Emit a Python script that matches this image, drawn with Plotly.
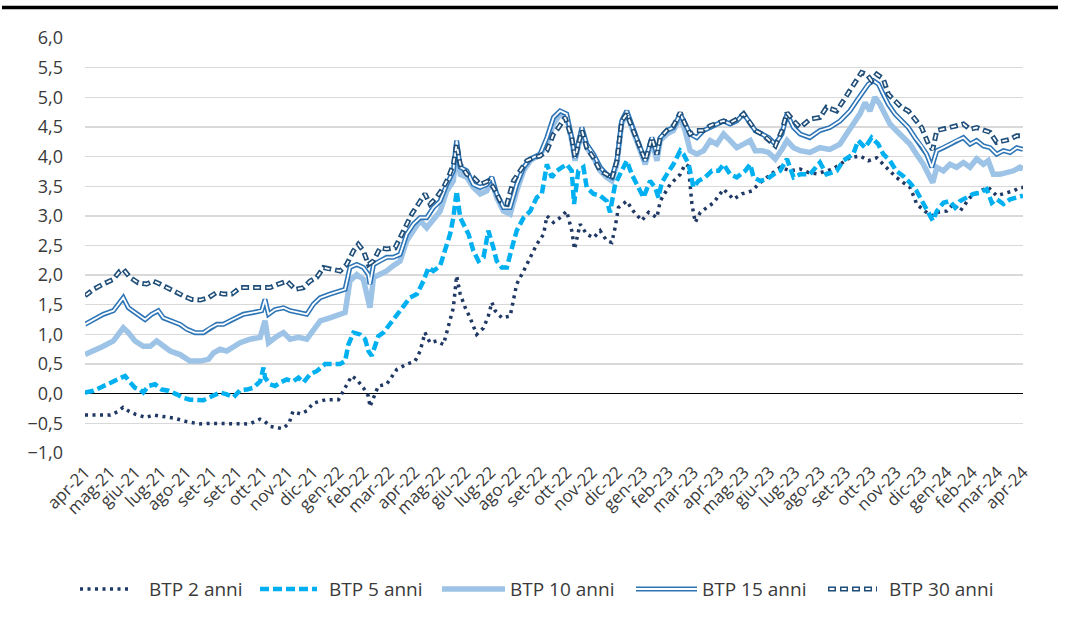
import plotly.graph_objects as go

# ---------------- data (x = position in month-label units, y = yield %) ----------------
month_labels = ["apr-21", "mag-21", "giu-21", "lug-21", "ago-21", "set-21", "set-21", "ott-21",
                "nov-21", "dic-21", "gen-22", "feb-22", "mar-22", "apr-22", "mag-22", "giu-22",
                "lug-22", "ago-22", "set-22", "ott-22", "nov-22", "dic-22", "gen-23", "feb-23",
                "mar-23", "apr-23", "mag-23", "giu-23", "lug-23", "ago-23", "set-23", "ott-23",
                "nov-23", "dic-23", "gen-24", "feb-24", "mar-24", "apr-24"]

series_names = ["BTP 2 anni", "BTP 5 anni", "BTP 10 anni", "BTP 15 anni", "BTP 30 anni"]

btp2 = [(0, -0.36), (0.5, -0.36), (1.0, -0.36), (1.3, -0.30), (1.5, -0.23), (1.75, -0.30), (2.0, -0.35),
        (2.4, -0.40), (2.7, -0.36), (3.0, -0.38), (3.5, -0.41), (4.0, -0.47), (4.5, -0.51), (5.0, -0.50),
        (5.5, -0.50), (6.0, -0.51), (6.5, -0.51), (6.9, -0.43), (7.1, -0.47), (7.3, -0.55), (7.6, -0.57),
        (7.8, -0.59), (8.05, -0.50), (8.2, -0.30), (8.5, -0.34), (8.75, -0.29), (9.0, -0.16), (9.5, -0.10),
        (10.0, -0.10), (10.32, 0.16), (10.52, 0.30), (10.72, 0.24), (10.98, 0.10), (11.18, -0.04),
        (11.24, -0.22), (11.38, -0.07), (11.57, 0.13), (11.9, 0.16), (12.3, 0.41), (12.69, 0.50),
        (13.02, 0.55), (13.22, 0.72), (13.41, 1.03), (13.61, 0.86), (13.87, 0.89), (14.14, 0.83),
        (14.34, 1.17), (14.53, 1.45), (14.66, 1.99), (14.8, 1.68), (15.0, 1.45), (15.19, 1.28),
        (15.45, 1.00), (15.72, 1.11), (15.91, 1.31), (16.05, 1.54), (16.18, 1.40), (16.44, 1.28),
        (16.77, 1.31), (17.03, 1.85), (17.3, 2.07), (17.56, 2.30), (17.82, 2.52), (18.09, 2.69),
        (18.22, 3.00), (18.48, 2.89), (18.74, 2.97), (19.0, 3.08), (19.2, 2.75), (19.31, 2.44),
        (19.53, 2.86), (19.79, 2.69), (20.06, 2.63), (20.32, 2.75), (20.58, 2.58), (20.78, 2.55),
        (20.91, 2.80), (21.04, 3.14), (21.37, 3.25), (21.63, 3.08), (21.96, 2.92), (22.23, 3.06),
        (22.56, 2.97), (22.69, 3.25), (23.08, 3.53), (23.48, 3.70), (23.67, 3.87), (23.8, 3.84),
        (23.94, 3.20), (24.07, 2.89), (24.27, 3.06), (24.53, 3.14), (24.79, 3.22), (25.19, 3.45),
        (25.58, 3.28), (25.91, 3.37), (26.3, 3.42), (26.63, 3.56), (27.03, 3.70), (27.42, 3.82),
        (27.82, 3.76), (28.21, 3.79), (28.54, 3.73), (28.86, 3.71), (29.5, 3.79), (30.17, 3.98),
        (30.57, 4.01), (30.9, 3.93), (31.23, 3.98), (31.62, 3.82), (32.0, 3.65), (32.28, 3.56),
        (32.54, 3.48), (32.74, 3.28), (32.8, 3.20), (33.13, 3.08), (33.4, 3.00), (33.6, 3.06),
        (33.99, 3.08), (34.25, 3.20), (34.52, 3.08), (34.91, 3.31), (35.3, 3.42), (35.63, 3.48),
        (35.96, 3.34), (36.36, 3.39), (36.62, 3.42), (36.88, 3.48), (37.0, 3.48)]

btp5 = [(0, 0.02), (0.33, 0.05), (0.59, 0.10), (0.86, 0.16), (1.12, 0.21), (1.38, 0.27), (1.58, 0.30),
        (1.78, 0.19), (1.97, 0.10), (2.17, 0.07), (2.3, 0.02), (2.5, 0.13), (2.76, 0.16), (3.03, 0.07),
        (3.29, 0.05), (3.62, -0.01), (3.88, -0.07), (4.14, -0.10), (4.41, -0.11), (4.67, -0.11),
        (4.87, -0.07), (5.13, -0.03), (5.33, 0.02), (5.59, -0.01), (5.86, -0.06), (6.12, 0.06),
        (6.38, 0.07), (6.64, 0.10), (6.91, 0.21), (7.04, 0.44), (7.1, 0.27), (7.3, 0.16), (7.5, 0.13),
        (7.7, 0.19), (7.96, 0.24), (8.22, 0.21), (8.42, 0.27), (8.62, 0.19), (8.88, 0.33), (9.14, 0.38),
        (9.47, 0.50), (9.8, 0.50), (10.06, 0.50), (10.26, 0.55), (10.39, 0.83), (10.59, 1.03),
        (10.85, 1.00), (11.05, 0.92), (11.18, 0.72), (11.31, 0.64), (11.44, 0.78), (11.57, 0.97),
        (11.77, 1.03), (12.03, 1.17), (12.43, 1.40), (12.82, 1.62), (13.09, 1.68), (13.35, 1.90),
        (13.55, 2.13), (13.74, 2.07), (14.01, 2.16), (14.2, 2.41), (14.4, 2.69), (14.53, 2.97),
        (14.66, 3.42), (14.8, 2.97), (14.93, 2.86), (15.13, 2.69), (15.32, 2.41), (15.52, 2.24),
        (15.72, 2.30), (15.91, 2.75), (16.11, 2.46), (16.24, 2.24), (16.44, 2.13), (16.64, 2.13),
        (16.84, 2.46), (17.03, 2.75), (17.3, 2.97), (17.56, 3.08), (17.82, 3.31), (18.02, 3.37),
        (18.22, 3.87), (18.41, 3.65), (18.61, 3.76), (18.88, 3.84), (19.0, 3.87), (19.2, 3.76),
        (19.29, 3.20), (19.46, 3.76), (19.66, 3.82), (19.79, 3.48), (20.06, 3.37), (20.32, 3.34),
        (20.58, 3.25), (20.71, 3.06), (20.91, 3.53), (21.17, 3.76), (21.37, 3.93), (21.57, 3.70),
        (21.77, 3.53), (22.03, 3.31), (22.29, 3.59), (22.49, 3.48), (22.62, 3.31), (22.75, 3.56),
        (22.95, 3.70), (23.21, 3.87), (23.48, 4.10), (23.61, 4.04), (23.81, 3.87), (24.0, 3.48),
        (24.2, 3.59), (24.46, 3.65), (24.73, 3.76), (24.99, 3.76), (25.19, 3.87), (25.45, 3.70),
        (25.71, 3.65), (26.04, 3.76), (26.24, 3.87), (26.37, 3.65), (26.63, 3.59), (26.9, 3.62),
        (27.16, 3.70), (27.42, 3.76), (27.69, 3.96), (27.95, 3.65), (28.21, 3.70), (28.59, 3.70),
        (28.99, 3.90), (29.25, 3.70), (29.65, 3.76), (29.91, 3.93), (30.3, 4.04), (30.5, 4.27),
        (30.77, 4.15), (31.03, 4.32), (31.29, 4.21), (31.49, 4.04), (31.75, 3.93), (32.0, 3.76),
        (32.28, 3.67), (32.54, 3.56), (32.8, 3.42), (33.07, 3.20), (33.27, 3.03), (33.44, 2.92),
        (33.6, 3.08), (33.86, 3.22), (34.12, 3.25), (34.32, 3.14), (34.52, 3.25), (34.78, 3.31),
        (35.04, 3.37), (35.3, 3.39), (35.57, 3.45), (35.77, 3.22), (35.96, 3.28), (36.23, 3.20),
        (36.49, 3.28), (36.75, 3.31), (37.0, 3.34)]

btp10 = [(0, 0.66), (0.33, 0.72), (0.72, 0.80), (1.12, 0.89), (1.38, 1.06), (1.51, 1.11), (1.71, 1.03),
         (1.97, 0.89), (2.3, 0.80), (2.57, 0.80), (2.83, 0.89), (3.03, 0.83), (3.36, 0.72), (3.75, 0.66),
         (4.14, 0.55), (4.54, 0.55), (4.87, 0.58), (5.07, 0.69), (5.33, 0.75), (5.59, 0.72), (5.86, 0.80),
         (6.12, 0.86), (6.51, 0.92), (6.91, 0.95), (7.1, 1.23), (7.24, 0.86), (7.57, 0.97), (7.83, 1.03),
         (8.09, 0.92), (8.42, 0.95), (8.75, 0.92), (9.01, 1.09), (9.28, 1.23), (9.66, 1.28), (10.06, 1.34),
         (10.26, 1.37), (10.45, 1.90), (10.72, 2.01), (10.98, 1.93), (11.18, 1.62), (11.24, 1.45),
         (11.38, 1.96), (11.64, 2.01), (11.9, 2.07), (12.16, 2.16), (12.43, 2.24), (12.69, 2.58),
         (12.95, 2.75), (13.22, 2.92), (13.48, 2.80), (13.74, 2.94), (14.01, 3.08), (14.27, 3.42),
         (14.53, 3.59), (14.66, 4.20), (14.8, 3.70), (15.06, 3.65), (15.32, 3.48), (15.59, 3.37),
         (15.85, 3.42), (16.05, 3.59), (16.24, 3.31), (16.51, 3.08), (16.77, 3.03), (17.03, 3.42),
         (17.3, 3.76), (17.56, 3.93), (17.95, 4.04), (18.22, 4.21), (18.48, 4.55), (18.74, 4.72),
         (19.0, 4.66), (19.2, 4.27), (19.33, 3.93), (19.6, 4.44), (19.79, 4.15), (20.06, 3.98),
         (20.32, 3.76), (20.58, 3.65), (20.78, 3.59), (20.98, 3.87), (21.17, 4.55), (21.37, 4.72),
         (21.63, 4.38), (21.9, 4.10), (22.1, 3.87), (22.36, 4.27), (22.56, 3.93), (22.69, 4.27),
         (22.95, 4.38), (23.21, 4.44), (23.48, 4.66), (23.67, 4.44), (23.87, 4.10), (24.13, 4.04),
         (24.4, 4.10), (24.66, 4.27), (24.92, 4.21), (25.19, 4.38), (25.45, 4.27), (25.71, 4.15),
         (25.98, 4.21), (26.24, 4.27), (26.44, 4.10), (26.7, 4.10), (26.96, 4.07), (27.23, 3.96),
         (27.49, 4.12), (27.69, 4.27), (27.95, 4.15), (28.21, 4.10), (28.59, 4.07), (28.99, 4.15),
         (29.38, 4.12), (29.78, 4.21), (30.04, 4.38), (30.3, 4.55), (30.57, 4.72), (30.77, 4.91),
         (30.96, 4.77), (31.16, 5.00), (31.36, 4.88), (31.55, 4.72), (31.75, 4.55), (32.0, 4.44),
         (32.28, 4.32), (32.54, 4.21), (32.8, 4.04), (33.07, 3.87), (33.27, 3.70), (33.44, 3.56),
         (33.6, 3.82), (33.86, 3.76), (34.12, 3.87), (34.38, 3.82), (34.65, 3.90), (34.91, 3.82),
         (35.17, 3.96), (35.44, 3.87), (35.63, 3.93), (35.83, 3.70), (36.09, 3.70), (36.36, 3.73),
         (36.62, 3.76), (36.88, 3.82), (37.0, 3.79)]

btp15 = [(0, 1.17), (0.33, 1.25), (0.72, 1.34), (1.12, 1.40), (1.38, 1.56), (1.51, 1.62), (1.71, 1.45),
         (1.97, 1.37), (2.37, 1.25), (2.63, 1.34), (2.89, 1.40), (3.09, 1.28), (3.42, 1.23), (3.75, 1.17),
         (4.01, 1.09), (4.34, 1.03), (4.67, 1.03), (4.93, 1.11), (5.2, 1.17), (5.46, 1.17), (5.72, 1.23),
         (5.99, 1.28), (6.25, 1.34), (6.64, 1.37), (6.97, 1.40), (7.1, 1.59), (7.24, 1.34), (7.5, 1.42),
         (7.83, 1.45), (8.09, 1.40), (8.42, 1.37), (8.75, 1.34), (9.01, 1.51), (9.28, 1.62), (9.66, 1.68),
         (10.06, 1.73), (10.26, 1.76), (10.45, 2.13), (10.72, 2.18), (10.98, 2.13), (11.18, 2.01),
         (11.24, 1.85), (11.38, 2.18), (11.64, 2.24), (11.9, 2.30), (12.16, 2.30), (12.43, 2.35),
         (12.69, 2.69), (12.95, 2.86), (13.22, 2.97), (13.48, 2.97), (13.74, 3.14), (14.01, 3.25),
         (14.27, 3.53), (14.53, 3.76), (14.66, 4.27), (14.8, 3.82), (15.06, 3.76), (15.32, 3.53),
         (15.59, 3.48), (15.85, 3.53), (16.05, 3.65), (16.24, 3.37), (16.51, 3.14), (16.77, 3.14),
         (17.03, 3.53), (17.3, 3.82), (17.56, 3.96), (17.95, 4.04), (18.22, 4.32), (18.48, 4.66),
         (18.74, 4.77), (19.0, 4.72), (19.2, 4.32), (19.33, 3.98), (19.6, 4.49), (19.79, 4.21),
         (20.06, 4.04), (20.32, 3.82), (20.58, 3.70), (20.78, 3.65), (20.98, 3.93), (21.17, 4.60),
         (21.37, 4.77), (21.63, 4.44), (21.9, 4.15), (22.1, 3.93), (22.36, 4.32), (22.56, 4.04),
         (22.69, 4.32), (22.95, 4.44), (23.21, 4.49), (23.48, 4.72), (23.67, 4.55), (23.87, 4.38),
         (24.13, 4.32), (24.4, 4.44), (24.66, 4.49), (24.92, 4.55), (25.19, 4.60), (25.45, 4.55),
         (25.71, 4.60), (25.98, 4.72), (26.24, 4.55), (26.44, 4.44), (26.7, 4.38), (26.96, 4.32),
         (27.23, 4.21), (27.49, 4.38), (27.69, 4.72), (27.95, 4.49), (28.21, 4.38), (28.59, 4.32),
         (28.99, 4.44), (29.38, 4.49), (29.78, 4.60), (30.17, 4.77), (30.44, 4.94), (30.7, 5.11),
         (30.9, 5.22), (31.1, 5.28), (31.3, 5.22), (31.49, 5.05), (31.69, 4.88), (31.95, 4.72),
         (32.21, 4.60), (32.48, 4.49), (32.74, 4.32), (33.0, 4.18), (33.2, 4.04), (33.4, 3.82),
         (33.6, 4.10), (33.86, 4.15), (34.12, 4.21), (34.38, 4.27), (34.65, 4.32), (34.91, 4.21),
         (35.17, 4.27), (35.44, 4.18), (35.7, 4.15), (35.96, 4.04), (36.23, 4.10), (36.49, 4.07),
         (36.75, 4.15), (37.0, 4.12)]

btp30 = [(0, 1.65), (0.33, 1.76), (0.72, 1.85), (1.12, 1.93), (1.38, 2.07), (1.51, 2.10), (1.78, 1.96),
         (2.1, 1.87), (2.43, 1.85), (2.7, 1.90), (2.96, 1.85), (3.22, 1.79), (3.55, 1.73), (3.88, 1.65),
         (4.21, 1.59), (4.54, 1.58), (4.87, 1.62), (5.2, 1.71), (5.46, 1.68), (5.79, 1.68), (6.12, 1.79),
         (6.51, 1.79), (6.78, 1.79), (7.04, 1.79), (7.3, 1.79), (7.63, 1.85), (7.96, 1.90), (8.29, 1.76),
         (8.62, 1.79), (8.88, 1.90), (9.14, 1.96), (9.41, 2.13), (9.66, 2.10), (10.06, 2.07),
         (10.32, 2.18), (10.59, 2.41), (10.78, 2.52), (10.98, 2.41), (11.18, 2.18), (11.38, 2.24),
         (11.64, 2.46), (11.9, 2.44), (12.23, 2.46), (12.43, 2.63), (12.62, 2.80), (12.89, 3.03),
         (13.15, 3.20), (13.41, 3.37), (13.61, 3.20), (13.87, 3.31), (14.14, 3.48), (14.34, 3.65),
         (14.53, 3.87), (14.66, 4.21), (14.8, 3.87), (15.06, 3.70), (15.32, 3.65), (15.59, 3.53),
         (15.91, 3.59), (16.11, 3.48), (16.38, 3.25), (16.64, 3.20), (16.9, 3.59), (17.16, 3.76),
         (17.43, 3.93), (17.69, 3.98), (17.95, 4.01), (18.22, 4.10), (18.48, 4.38), (18.68, 4.49),
         (18.94, 4.66), (19.2, 4.32), (19.33, 3.98), (19.6, 4.44), (19.79, 4.15), (20.06, 3.98),
         (20.32, 3.76), (20.58, 3.70), (20.78, 3.62), (20.98, 3.93), (21.17, 4.60), (21.37, 4.72),
         (21.63, 4.44), (21.9, 4.15), (22.1, 3.93), (22.36, 4.32), (22.56, 4.04), (22.69, 4.32),
         (22.95, 4.44), (23.21, 4.52), (23.48, 4.74), (23.67, 4.55), (23.87, 4.38), (24.13, 4.44),
         (24.4, 4.44), (24.66, 4.52), (24.92, 4.57), (25.19, 4.60), (25.45, 4.57), (25.71, 4.63),
         (25.98, 4.72), (26.24, 4.57), (26.44, 4.44), (26.7, 4.38), (26.96, 4.29), (27.23, 4.18),
         (27.49, 4.44), (27.69, 4.74), (27.95, 4.60), (28.21, 4.49), (28.59, 4.63), (28.99, 4.66),
         (29.25, 4.83), (29.65, 4.77), (29.91, 4.94), (30.17, 5.11), (30.44, 5.28), (30.63, 5.42),
         (30.83, 5.39), (31.03, 5.28), (31.23, 5.39), (31.49, 5.31), (31.69, 5.05), (31.95, 4.94),
         (32.21, 4.83), (32.48, 4.77), (32.74, 4.63), (33.0, 4.49), (33.27, 4.21), (33.44, 4.12),
         (33.6, 4.44), (33.86, 4.46), (34.12, 4.49), (34.38, 4.52), (34.65, 4.55), (34.91, 4.46),
         (35.17, 4.49), (35.44, 4.44), (35.7, 4.41), (35.96, 4.24), (36.23, 4.27), (36.49, 4.29),
         (36.75, 4.35), (37.0, 4.35)]

# ---------------- styling ----------------
FONT = "Open Sans, Lato, sans-serif"
TXT = "#3a3a3a"
W, H = 1075, 621
PL, PR, PT, PB = 85, 1023, 38, 453   # plot area in pixels

# each series: list of (color, width, dash) strokes drawn on top of each other
styles = [
    [("#1F3864", 3.5, "3px,4.5px")],
    [("#00B0F0", 4.5, "9px,4px")],
    [("#9DC3E6", 5.5, "solid")],
    [("#2E75B6", 5.0, "solid"), ("#FFFFFF", 1.8, "solid")],
    [("#1F4E79", 5.0, "8px,4px"), ("#FFFFFF", 1.8, "0px,1.5px,5px,5.5px")],
]

fig = go.Figure()
for name, data, strokes in zip(series_names, [btp2, btp5, btp10, btp15, btp30], styles):
    xs = [p[0] for p in data]
    ys = [p[1] for p in data]
    for color, width, dash in strokes:
        fig.add_trace(go.Scatter(x=xs, y=ys, mode="lines", name=name, showlegend=False,
                                 hoverinfo="skip",
                                 line=dict(color=color, width=width, dash=dash)))


def pxx(px):
    return (px - PL) / (PR - PL)


def pxy(py):
    return (PB - py) / (PB - PT)


shapes = []
annotations = []
# top rule
shapes.append(dict(type="line", xref="paper", yref="paper", x0=pxx(2), x1=pxx(1058),
                   y0=pxy(7.5), y1=pxy(7.5), line=dict(color="#000000", width=3.5)))

# custom legend (symbol x0, symbol x1, text x)
legend_pos = [(80, 132, 147), (260, 317, 327), (442, 505, 508), (636, 697, 700), (828, 877, 887)]
LEG_Y = 589
for name, strokes, (sx0, sx1, tx) in zip(series_names, styles, legend_pos):
    for color, width, dash in strokes:
        shapes.append(dict(type="line", xref="paper", yref="paper",
                           x0=pxx(sx0), x1=pxx(sx1), y0=pxy(LEG_Y), y1=pxy(LEG_Y),
                           line=dict(color=color, width=width, dash=dash)))
    annotations.append(dict(text=name, xref="paper", yref="paper", x=pxx(tx), y=pxy(LEG_Y),
                            xanchor="left", yanchor="middle", showarrow=False,
                            font=dict(family=FONT, size=19, color=TXT)))

fig.update_layout(
    width=W, height=H,
    margin=dict(l=PL, r=W - PR, t=PT, b=H - PB, pad=0),
    plot_bgcolor="white", paper_bgcolor="white",
    showlegend=False,
    separators=",.",
    font=dict(family=FONT, color=TXT),
    shapes=shapes,
    annotations=annotations,
    xaxis=dict(range=[0, 37], tickmode="array", tickvals=list(range(len(month_labels))),
               ticktext=month_labels, tickangle=-45, showgrid=False, zeroline=False,
               showline=False, ticks="", ticklabelstandoff=5,
               tickfont=dict(family=FONT, size=17, color=TXT)),
    yaxis=dict(range=[-1, 6], tick0=0, dtick=0.5, tickformat=".1f", showgrid=True,
               gridcolor="#D9D9D9", gridwidth=1.3, zeroline=True, zerolinecolor="#000000",
               zerolinewidth=1.5, showline=False, ticks="", ticklabelstandoff=21,
               tickfont=dict(family=FONT, size=18, color=TXT)),
)

fig.write_html("out.html", config={"displayModeBar": False, "staticPlot": True},
               post_script="document.body.style.margin='0';")
